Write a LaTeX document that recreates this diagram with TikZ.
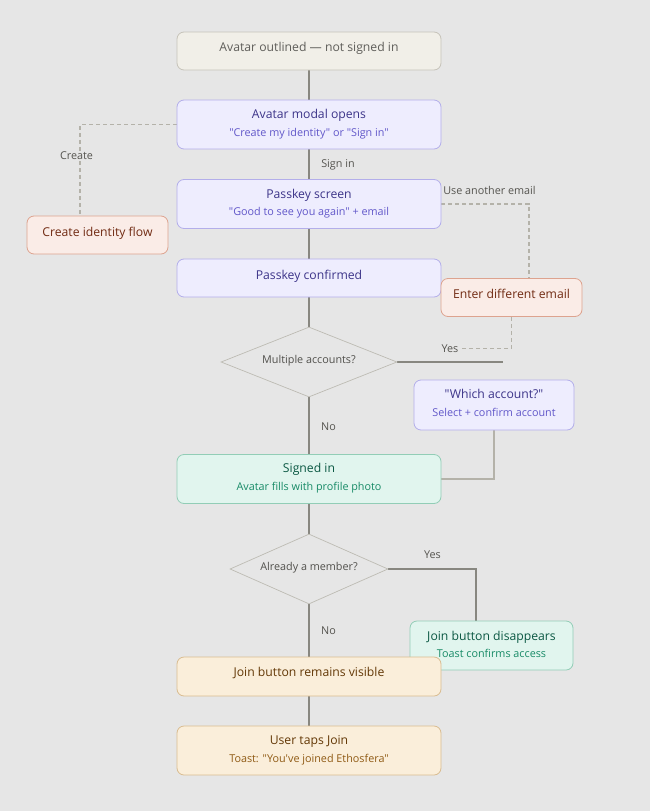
\documentclass[tikz,border=0pt]{standalone}
\usepackage{fontspec}
\setmainfont{Open Sans}[Ligatures=TeXOff]
\usetikzlibrary{shapes.geometric}
\pgfdeclarelayer{bgfill}
\pgfdeclarelayer{background}
\pgfsetlayers{bgfill,background,main}
\definecolor{bg}{HTML}{E6E6E6}
\definecolor{grayfill}{HTML}{F1EFE8}
\definecolor{grayline}{HTML}{C6C3B9}
\definecolor{graytext}{HTML}{5F5E5A}
\definecolor{purfill}{HTML}{EEEDFE}
\definecolor{purline}{HTML}{B3AEEA}
\definecolor{purtitle}{HTML}{3C3489}
\definecolor{pursub}{HTML}{6157C9}
\definecolor{corfill}{HTML}{FAECE7}
\definecolor{corline}{HTML}{DDA38F}
\definecolor{cortext}{HTML}{712B13}
\definecolor{teafill}{HTML}{E1F5EE}
\definecolor{tealine}{HTML}{92CDB6}
\definecolor{teatitle}{HTML}{0B5843}
\definecolor{teasub}{HTML}{178A66}
\definecolor{ambfill}{HTML}{FAEEDA}
\definecolor{ambline}{HTML}{D9BC90}
\definecolor{ambtitle}{HTML}{633806}
\definecolor{ambsub}{HTML}{8F5A14}
\definecolor{conn}{HTML}{888780}
\definecolor{connlight}{HTML}{B4B2A9}
\definecolor{diaborder}{HTML}{BDBBB3}
\definecolor{lbltext}{HTML}{55544F}
\tikzset{
  box/.style={draw, rectangle, rounded corners=7pt, line width=0.8pt, inner sep=0pt, minimum width=264pt},
  graybox/.style={box, fill=grayfill, draw=grayline},
  purbox/.style={box, fill=purfill, draw=purline},
  corbox/.style={box, fill=corfill, draw=corline},
  teabox/.style={box, fill=teafill, draw=tealine},
  ambbox/.style={box, fill=ambfill, draw=ambline},
  ttl/.style={anchor=base, inner sep=0pt, font=\fontsize{12.2}{14}\selectfont},
  sub/.style={anchor=base, inner sep=0pt, font=\fontsize{10.8}{13}\selectfont},
  dia/.style={draw=diaborder, diamond, line width=0.7pt, inner sep=0pt, minimum width=176pt, minimum height=70pt},
  diatxt/.style={anchor=base, inner sep=0pt, text=graytext!85!black, font=\fontsize{10.8}{13}\selectfont},
  lbl/.style={inner sep=1.5pt, fill=bg, text=lbltext, font=\fontsize{10.8}{13}\selectfont},
  mainline/.style={draw=conn, line width=1.4pt},
  lightline/.style={draw=connlight, line width=1.4pt},
  dashline/.style={draw=connlight, line width=1.2pt, dash pattern=on 4pt off 3pt}
}
\begin{document}
\begin{tikzpicture}[x=1pt,y=-1pt]
\begin{pgfonlayer}{bgfill}
\fill[bg] (0,0) rectangle (650,811);
\end{pgfonlayer}
\useasboundingbox (0,0) rectangle (650,811);

% nodes
\node[graybox, minimum height=38pt] (A) at (309,51) {};
\node[ttl, text=graytext] (At) at ([yshift=-19.5pt]A.north) {Avatar outlined — not signed in};

\node[purbox, minimum height=49pt] (B) at (309,124.5) {};
\node[ttl, text=purtitle] (Bt) at ([yshift=-19pt]B.north) {Avatar modal opens};
\node[sub, text=pursub] (Bs) at ([yshift=-36.5pt]B.north) {"Create my identity" or "Sign in"};

\node[purbox, minimum height=49pt] (C) at (309,204) {};
\node[ttl, text=purtitle] (Ct) at ([yshift=-19pt]C.north) {Passkey screen};
\node[sub, text=pursub] (Cs) at ([yshift=-36.5pt]C.north) {"Good to see you again" + email};

\node[purbox, minimum height=38pt] (D) at (309,278) {};
\node[ttl, text=purtitle] (Dt) at ([yshift=-20.5pt]D.north) {Passkey confirmed};

\node[corbox, minimum width=141pt, minimum height=38pt] (E) at (511.5,297.5) {};
\node[ttl, text=cortext] (Et) at ([yshift=-20.5pt]E.north) {Enter different email};

\node[corbox, minimum width=141pt, minimum height=38pt] (CI) at (97.5,235) {};
\node[ttl, text=cortext] (CIt) at ([yshift=-20.5pt]CI.north) {Create identity flow};

\node[dia] (D1) at (309,362) {};
\node[diatxt] (D1t) at (309,363) {Multiple accounts?};

\node[purbox, minimum width=160pt, minimum height=50pt] (W) at (494,405) {};
\node[ttl, text=purtitle] (Wt) at ([yshift=-19pt]W.north) {"Which account?"};
\node[sub, text=pursub] (Ws) at ([yshift=-37pt]W.north) {Select + confirm account};

\node[teabox, minimum height=49pt] (S) at (309,479) {};
\node[ttl, text=teatitle] (St) at ([yshift=-18pt]S.north) {Signed in};
\node[sub, text=teasub] (Ss) at ([yshift=-36pt]S.north) {Avatar fills with profile photo};

\node[dia, minimum width=158pt] (D2) at (309,569) {};
\node[diatxt] (D2t) at (309,570) {Already a member?};

\node[teabox, minimum width=163pt, minimum height=49pt] (JD) at (491.5,645.5) {};
\node[ttl, text=teatitle] (JDt) at ([yshift=-19.5pt]JD.north) {Join button disappears};
\node[sub, text=teasub] (JDs) at ([yshift=-37pt]JD.north) {Toast confirms access};

\node[ambbox, minimum height=39pt] (JR) at (309,676.5) {};
\node[ttl, text=ambtitle] (JRt) at ([yshift=-19.5pt]JR.north) {Join button remains visible};

\node[ambbox, minimum height=49pt] (UT) at (309,750.5) {};
\node[ttl, text=ambtitle] (UTt) at ([yshift=-19pt]UT.north) {User taps Join};
\node[sub, text=ambsub] (UTs) at ([yshift=-36.5pt]UT.north) {Toast: "You've joined Ethosfera"};

% labels
\node[lbl] (Lcreate) at (76.5,156) {Create};
\node[lbl, fill=none] (Lsign) at (338,164.5) {Sign in};
\node[lbl, fill=none] (Luse) at (489.5,190.5) {Use another email};
\node[lbl] (Lyes1) at (450,348.5) {Yes};
\node[lbl, fill=none] (Lno1) at (328.5,426.5) {No};
\node[lbl, fill=none] (Lyes2) at (432.5,554.5) {Yes};
\node[lbl, fill=none] (Lno2) at (328.5,630.5) {No};

% helper coordinates
\coordinate (cx) at (80,0);
\coordinate (ux) at (529,0);
\coordinate (yx) at (503,0);
\coordinate (jx) at (476,0);
\coordinate (ye) at (460,348.5);

% connectors
\begin{pgfonlayer}{background}
\draw[mainline] (A.south) -- (B.north);
\draw[mainline] (B.south) -- (C.north);
\draw[mainline] (C.south) -- (D.north);
\draw[mainline] (D.south) -- (D1.north);
\draw[mainline] (D1.south) -- (S.north);
\draw[mainline] (D1.east) -- (D1.east -| yx);
\draw[dashline] (C.east) -| (ux |- E.north);
\draw[dashline] (E.south) |- (ye);
\draw[lightline] (W.south) |- (S.east);
\draw[dashline] (B.west) -| (cx |- CI.north);
\draw[mainline] (S.south) -- (D2.north);
\draw[mainline] (D2.east) -| (jx |- JD.north);
\draw[mainline] (D2.south) -- (JR.north);
\draw[mainline] (JR.south) -- (UT.north);
\end{pgfonlayer}
\end{tikzpicture}
\end{document}
